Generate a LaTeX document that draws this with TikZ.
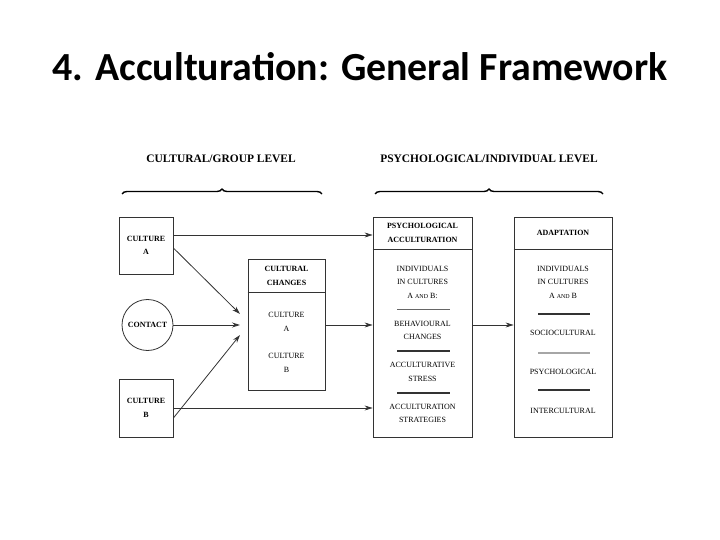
\documentclass[tikz,border=0pt]{standalone}
\usepackage{fontspec}
\setmainfont{Liberation Serif}
\newfontfamily\titlefont{Carlito}
\usetikzlibrary{decorations.pathreplacing,arrows.meta}

\tikzset{
  box/.style={draw=black!80, line width=.8bp, inner sep=0pt},
  lbl/.style={font=\fontsize{8}{13.5}\selectfont, align=center, inner sep=0pt},
  hdr/.style={lbl, font=\fontsize{8}{13.5}\selectfont\bfseries},
  lvl/.style={font=\fontsize{11.5}{13}\selectfont\bfseries, inner sep=0pt},
  arr/.style={-{Stealth[length=8bp,width=5bp]}, line width=.8bp, black!80},
  rule/.style={line width=1.4bp, black!80},
  brc/.style={decorate, decoration={brace, amplitude=5bp}, line width=1.4bp}
}

\begin{document}
\begin{tikzpicture}[x=1bp,y=-1bp]
\useasboundingbox (0,0) rectangle (720,540);
\node[font=\titlefont\fontsize{40}{46}\selectfont\bfseries] (title) at (360,67) {4. Acculturation: General Framework};

% level headings
\node[lvl] (grp) at (221,159) {CULTURAL/GROUP LEVEL};
\node[lvl] (ind) at (489,159) {PSYCHOLOGICAL/INDIVIDUAL LEVEL};
\draw[brc] (122,194) -- (322,194);
\draw[brc] (375,194) -- (603,194);

% cultural side
\node[box, minimum width=54bp, minimum height=57bp] (cA) at (146,245.5) {};
\node[hdr] at (cA) {CULTURE\\A};
\node[box, circle, minimum size=51bp] (con) at (147.5,325) {};
\node[hdr] at (con) {CONTACT};
\node[box, minimum width=54bp, minimum height=58bp] (cB) at (146,408) {};
\node[hdr] at (cB) {CULTURE\\B};

\node[box, minimum width=77bp, minimum height=131bp] (chg) at (286.5,324.5) {};
\draw[box] (chg.west |- 0,292) -- (chg.east |- 0,292);
\node[hdr] at (286.5,276) {CULTURAL\\CHANGES};
\node[lbl] at (286.5,322) {CULTURE\\A};
\node[lbl] at (286.5,363) {CULTURE\\B};

% individual side
\node[box, minimum width=99bp, minimum height=220bp] (acc) at (422.5,327) {};
\draw[box] (acc.west |- 0,249) -- (acc.east |- 0,249);
\node[hdr] at (422.5,233) {PSYCHOLOGICAL\\ACCULTURATION};
\node[lbl] at (422.5,282) {INDIVIDUALS\\IN CULTURES\\A {\fontsize{6}{12}\selectfont AND} B:};
\draw[line width=.8bp, black!60] (397,309) -- (450,309);
\node[lbl] at (422.5,330.5) {BEHAVIOURAL\\CHANGES};
\draw[rule] (397,351) -- (450,351);
\node[lbl] at (422.5,372) {ACCULTURATIVE\\STRESS};
\draw[rule] (397,393) -- (450,393);
\node[lbl] at (422.5,413.5) {ACCULTURATION\\STRATEGIES};

\node[box, minimum width=98bp, minimum height=220bp] (adp) at (563,327) {};
\draw[box] (adp.west |- 0,249) -- (adp.east |- 0,249);
\node[hdr] at (563,233) {ADAPTATION};
\node[lbl] at (563,282) {INDIVIDUALS\\IN CULTURES\\A {\fontsize{6}{12}\selectfont AND} B};
\draw[rule] (538,314) -- (590,314);
\node[lbl] at (563,333) {SOCIOCULTURAL};
\draw[line width=1.4bp, black!35] (538,353) -- (590,353);
\node[lbl] at (563,372) {PSYCHOLOGICAL};
\draw[rule] (538,390) -- (590,390);
\node[lbl] at (563,411) {INTERCULTURAL};

% connectors
\coordinate (inA) at (240,314);
\coordinate (inC) at (240,325);
\coordinate (inB) at (240,335);
\draw[arr] ([yshift=-2.5bp]cA.east) -- (inA);
\draw[arr] (con.east) -- (inC);
\draw[arr] ([yshift=-10bp]cB.east) -- (inB);
\draw[arr] ([yshift=10.5bp]cA.east) -- ([yshift=10.5bp]cA.east -| acc.west);
\draw[arr] (cB.east) -- (cB.east -| acc.west);
\draw[arr] (chg.east |- inC) -- (acc.west |- inC);
\draw[arr] (acc.east |- inC) -- (adp.west |- inC);
\end{tikzpicture}
\end{document}
